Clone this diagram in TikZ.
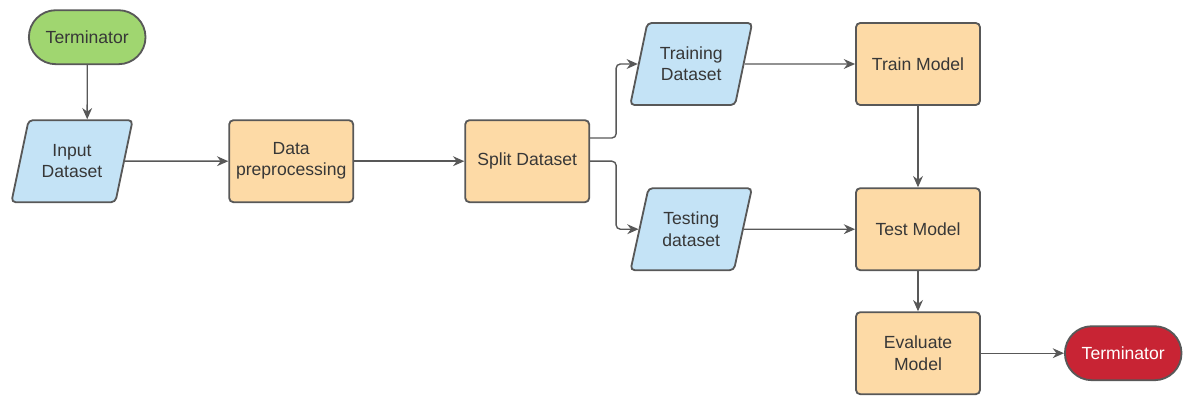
\documentclass[tikz,border=0pt]{standalone}
\usepackage{fontspec}
\setmainfont{Liberation Sans}
\usepackage{tikz}
\usetikzlibrary{arrows.meta,shapes.geometric,shapes.misc,positioning}
\definecolor{termgreen}{RGB}{160, 214, 112}
\definecolor{termred}{RGB}{200, 36, 52}
\definecolor{databl}{RGB}{196, 227, 246}
\definecolor{procor}{RGB}{253, 218, 166}
\definecolor{edgegr}{RGB}{88, 88, 88}
\definecolor{txtgr}{RGB}{55, 55, 55}

\tikzset{
    procbox/.style={rectangle, rounded corners=3pt, draw=edgegr, line width=1.3pt, fill=procor,
        minimum width=3.1cm, minimum height=2.05cm, align=center, text=txtgr},
    databox/.style={trapezium, trapezium left angle=72, trapezium right angle=108, trapezium stretches=true,
        rounded corners=3pt, draw=edgegr, line width=1.3pt, fill=databl,
        minimum width=3.05cm, minimum height=2.05cm, align=center, text=txtgr},
    termbox/.style={rounded rectangle, draw=edgegr, line width=1.3pt,
        minimum width=3.15cm, minimum height=1.35cm, align=center},
    flow/.style={draw=edgegr, line width=1pt, -{Stealth[length=8pt,width=7pt]}}
}

\begin{document}
\begin{tikzpicture}[font=\fontsize{12.5}{15}\selectfont]
            \useasboundingbox (0,0) rectangle (29.675,-9.9);

            % Start and end
            \node[termbox, fill=termgreen, text=txtgr] (start) at (2.18,-0.93) {Terminator};
            \node[termbox, fill=termred, text=white] (stop) at (28.08,-8.83) {Terminator};

            % Data blocks
            \node[databox] (input) at (1.8,-4.03) {Input\\Dataset};
            \node[databox] (traind) at (17.28,-1.6) {Training\\Dataset};
            \node[databox] (testd) at (17.28,-5.73) {Testing\\dataset};

            % Process blocks
            \node[procbox] (prep) at (7.28,-4.03) {Data\\preprocessing};
            \node[procbox] (split) at (13.18,-4.03) {Split Dataset};
            \node[procbox] (trainm) at (22.95,-1.6) {Train Model};
            \node[procbox] (testm) at (22.95,-5.73) {Test Model};
            \node[procbox] (evalm) at (22.95,-8.83) {Evaluate\\Model};

            % Arrows
            \draw[flow] (start) -- (start |- input.north);
            \draw[flow] (input.east) -- (prep);
            \draw[flow] (prep) -- (split);
            \draw[flow, rounded corners=3pt] ([yshift=0.58cm]split.east) -- ++(0.65,0) |- (traind.west);
            \draw[flow, rounded corners=3pt] (split.east) -- ++(0.65,0) |- (testd.west);
            \draw[flow] (traind.east) -- (trainm);
            \draw[flow] (testd.east) -- (testm);
            \draw[flow] (trainm) -- (testm);
            \draw[flow] (testm) -- (evalm);
            \draw[flow] (evalm) -- (stop);
        \end{tikzpicture}
\end{document}
